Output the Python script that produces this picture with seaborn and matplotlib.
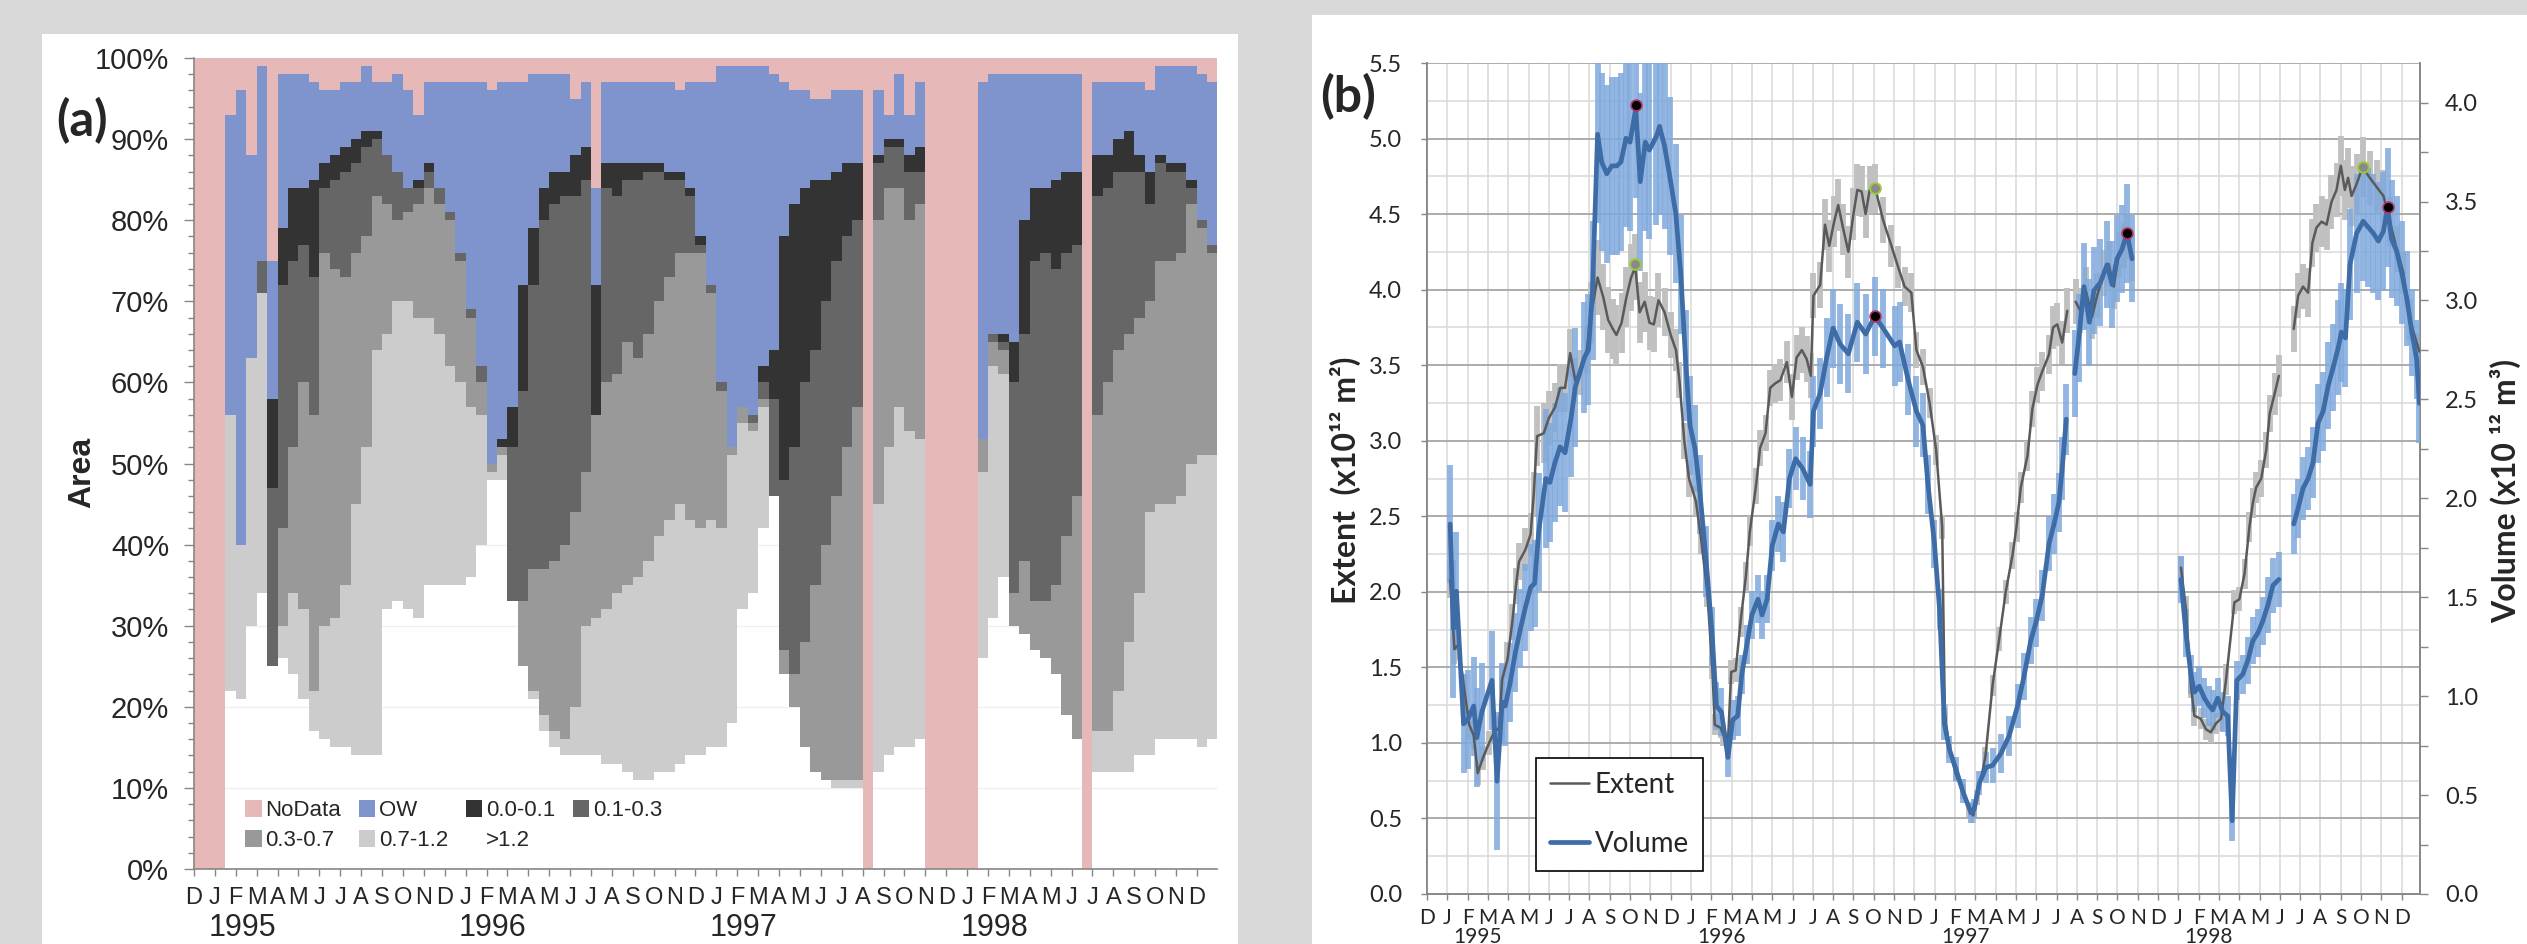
import numpy as np
import pandas as pd
import matplotlib
matplotlib.use('Agg')
import matplotlib.pyplot as plt
from matplotlib.patches import Patch, Rectangle
from matplotlib.lines import Line2D
from matplotlib.ticker import MultipleLocator, FuncFormatter
from matplotlib.transforms import blended_transform_factory
import seaborn as sns

nan = float('nan')

months = list('DJFMAMJJASON') * 4 + ['D']
years = ['1995', '1996', '1997', '1998']

# ---- panel (a): cumulative level (%) at the top of each class, half-month steps from Dec 1994
lvl_ow = [0, 0, 0, 93, 96, 88, 99, 75, 98, 98, 98, 97, 96, 96, 97, 97, 99, 97, 97, 98,
          96, 93, 97, 97, 97, 97, 97, 97, 96, 97, 97, 97, 98, 98, 98, 98, 95, 97, 84, 97,
          97, 97, 97, 97, 97, 97, 96, 97, 97, 97, 99, 99, 99, 99, 99, 98, 97, 96, 96, 95,
          95, 96, 96, 96, 0, 96, 93, 98, 93, 97, 0, 0, 0, 0, 0, 97, 98, 98, 98, 98,
          98, 98, 98, 98, 98, 0, 97, 97, 97, 97, 97, 96, 99, 99, 99, 99, 98, 97]
lvl_00_01 = [0, 0, 0, 56, 40, 63, 75, 58, 79, 84, 84, 85, 87, 88, 89, 90, 91, 91, 88, 86,
             84, 85, 87, 84, 81, 76, 69, 62, 50, 53, 57, 72, 79, 84, 86, 86, 88, 89, 72, 87,
             87, 87, 87, 87, 87, 86, 86, 84, 78, 72, 60, 52, 57, 56, 62, 64, 78, 82, 84, 85,
             85, 86, 87, 87, 0, 88, 90, 90, 88, 89, 0, 0, 0, 0, 0, 53, 66, 66, 65, 80,
             84, 84, 85, 86, 86, 0, 88, 88, 90, 91, 88, 86, 88, 87, 87, 85, 80, 77]
lvl_01_03 = [0, 0, 0, 56, 40, 63, 75, 47, 72, 75, 77, 73, 84, 85, 86, 87, 89, 90, 88, 86,
             84, 84, 86, 84, 81, 76, 69, 62, 50, 52, 52, 59, 72, 80, 82, 83, 83, 85, 56, 84,
             83, 85, 85, 86, 86, 85, 85, 83, 77, 72, 60, 52, 57, 56, 60, 58, 48, 52, 60, 64,
             70, 75, 78, 80, 0, 87, 89, 89, 86, 86, 0, 0, 0, 0, 0, 53, 66, 65, 60, 66,
             75, 76, 74, 76, 77, 0, 83, 84, 86, 86, 86, 82, 87, 86, 86, 84, 80, 77]
lvl_03_07 = [0, 0, 0, 56, 40, 63, 71, 25, 42, 52, 60, 56, 76, 74, 73, 76, 78, 83, 82, 80,
             81, 82, 84, 82, 80, 75, 68, 60, 50, 52, 33, 33, 37, 37, 38, 40, 44, 49, 56, 60,
             61, 65, 63, 66, 70, 73, 76, 76, 76, 71, 59, 52, 57, 55, 58, 46, 27, 24, 28, 35,
             40, 46, 52, 57, 0, 80, 84, 84, 80, 82, 0, 0, 0, 0, 0, 53, 65, 64, 34, 38,
             33, 33, 35, 41, 46, 0, 56, 60, 64, 66, 68, 70, 75, 75, 76, 82, 79, 76]
lvl_07_12 = [0, 0, 0, 56, 40, 63, 71, 25, 30, 34, 32, 22, 30, 31, 35, 45, 52, 64, 66, 70,
             70, 68, 68, 66, 62, 60, 57, 56, 49, 51, 33, 25, 22, 19, 17, 16, 20, 30, 31, 32,
             34, 35, 36, 38, 41, 43, 45, 43, 42, 43, 42, 51, 55, 54, 57, 46, 24, 20, 15, 12,
             11, 11, 11, 11, 0, 45, 52, 57, 54, 53, 0, 0, 0, 0, 0, 49, 62, 61, 30, 29,
             27, 26, 24, 19, 16, 0, 17, 17, 22, 28, 34, 44, 45, 45, 46, 50, 51, 51]
lvl_gt12 = [0, 0, 0, 22, 21, 30, 34, 25, 26, 24, 21, 17, 16, 15, 15, 14, 14, 14, 32, 33,
            32, 31, 35, 35, 35, 35, 36, 40, 48, 48, 33, 25, 21, 17, 15, 14, 14, 14, 14, 13,
            13, 12, 11, 11, 12, 12, 13, 14, 14, 15, 15, 18, 32, 34, 42, 46, 24, 20, 15, 12,
            11, 10, 10, 10, 0, 12, 14, 15, 15, 16, 0, 0, 0, 0, 0, 26, 31, 36, 30, 29,
            27, 26, 24, 19, 16, 0, 12, 12, 12, 12, 14, 14, 16, 16, 16, 16, 15, 16]

# ---- panel (b): months since 1 Dec 1994
ext_t = [1.14, 1.35, 1.55, 1.84, 2.08, 2.3, 2.5, 2.75, 3.06, 3.3,
         3.55, 3.7, 3.96, 4.2, 4.38, 4.53, 4.85, 5.1, 5.26, 5.42,
         5.75, 6.0, 6.3, 6.56, 6.8, 7.05, 7.3, 7.54, 7.87, 8.1,
         8.4, 8.68, 8.92, 9.15, 9.33, 9.58, 9.82, 10.05, 10.26, 10.47,
         10.72, 10.96, 11.17, 11.4, 11.7, 12.0, 12.26, 12.43, 12.67, 12.9,
         13.24, 13.5, 13.8, 14.05, 14.17, 14.46, 14.6, 14.82, 14.98, 15.2,
         15.44, 15.7, 15.9, 16.2, 16.4, 16.67, 16.9, 17.15, 17.4, 17.72,
         17.97, 18.2, 18.46, 18.7, 18.9, 19.03, 19.36, 19.6, 19.81, 20.05,
         20.25, 20.5, 20.75, 21.0, 21.19, 21.4, 21.6, 21.8, 22.08, 22.46,
         22.87, 23.2, 23.52, 23.85, 24.1, 24.42, 24.75, 25.07, 25.37, 25.5,
         25.73, 26.05, 26.38, 26.7, 26.9, 27.1, 27.5, 27.85, 28.18, 28.5,
         28.83, 29.03, 29.24, 29.57, 29.81, 30.06, 30.3, 30.63, 30.83, 31.04,
         31.28, 31.53, 31.7,
         31.94, 32.18, 32.43, 32.75, 33.0, 33.33, 33.57, 33.82, 34.06, 34.3, 34.47, 34.72, 36.0,
         37.13, 37.37, 37.62, 37.79, 38.1, 38.36, 38.6, 38.86, 39.1, 39.35,
         39.76, 40.0, 40.26, 40.5, 40.67, 40.83, 41.08, 41.33, 41.5, 41.74, 41.95, 42.3,
         42.68, 42.9, 43.14, 43.39, 43.6, 43.8, 44.05, 44.3, 44.54, 44.79,
         45.0, 45.2, 45.36, 45.53, 45.78, 46.07, 46.43, 46.76, 47.1, 47.42,
         47.75, 48.08, 48.4, 48.87]
ext_v = [2.08, 1.62, 1.65, 1.35, 1.12, 1.05, 0.80, 0.90, 1.00, 1.07,
         1.10, 1.42, 1.55, 1.80, 2.04, 2.20, 2.28, 2.38, 2.65, 3.03,
         3.05, 3.15, 3.22, 3.35, 3.35, 3.58, 3.40, 3.45, 3.60, 3.85,
         4.08, 3.95, 3.80, 3.74, 3.70, 3.78, 3.95, 4.08, 4.15, 3.85,
         3.92, 3.78, 3.77, 3.93, 3.85, 3.70, 3.60, 3.40, 3.00, 2.75,
         2.60, 2.35, 2.00, 1.50, 1.12, 1.10, 1.05, 1.00, 1.47, 1.48,
         1.80, 2.10, 2.40, 2.70, 2.95, 3.05, 3.35, 3.38, 3.40, 3.52,
         3.29, 3.55, 3.60, 3.54, 3.43, 3.96, 4.03, 4.43, 4.29, 4.45,
         4.56, 4.40, 4.25, 4.50, 4.66, 4.65, 4.50, 4.66, 4.67, 4.46,
         4.29, 4.15, 4.02, 3.98, 3.60, 3.49, 3.25, 2.94, 2.43, 1.20,
         0.95, 0.79, 0.68, 0.56, 0.52, 0.64, 0.91, 1.38, 1.69, 2.00,
         2.24, 2.43, 2.69, 2.90, 3.21, 3.37, 3.46, 3.57, 3.75, 3.77,
         3.65, 3.86, nan,
         3.92, 3.86, 4.00, 3.82, 3.96, 4.11, 4.17, 4.02, 4.23, 4.29, 4.35, 4.21, nan,
         2.16, 1.89, 1.38, 1.18, 1.16, 1.09, 1.07, 1.13, 1.16, 1.42,
         1.93, 1.95, 2.12, 2.43, 2.59, 2.69, 2.75, 2.94, 3.18, 3.31, 3.43, nan,
         3.74, 3.96, 4.02, 3.98, 4.31, 4.41, 4.45, 4.43, 4.58, 4.66,
         4.82, 4.66, 4.74, 4.62, 4.70, 4.81, 4.74, 4.68, 4.62, 4.45,
         4.27, 4.11, 3.80, 3.59]
ext_err = [0.12, 0.1, 0.1, 0.1, 0.1, 0.1, 0.08, 0.08, 0.08, 0.08,
           0.08, 0.1, 0.12, 0.12, 0.12, 0.12, 0.14, 0.14, 0.14, 0.2,
           0.2, 0.18, 0.16, 0.16, 0.16, 0.16, 0.15, 0.15, 0.16, 0.2,
           0.25, 0.22, 0.22, 0.2, 0.2, 0.2, 0.2, 0.22, 0.22, 0.2,
           0.2, 0.18, 0.18, 0.18, 0.16, 0.15, 0.14, 0.12, 0.12, 0.12,
           0.1, 0.1, 0.1, 0.08, 0.07, 0.07, 0.07, 0.07, 0.08, 0.08,
           0.1, 0.1, 0.1, 0.12, 0.12, 0.12, 0.12, 0.13, 0.14, 0.14,
           0.15, 0.15, 0.15, 0.15, 0.15, 0.15, 0.15, 0.17, 0.17, 0.17,
           0.17, 0.17, 0.17, 0.17, 0.17, 0.17, 0.16, 0.16, 0.16, 0.15,
           0.14, 0.14, 0.13, 0.13, 0.12, 0.12, 0.1, 0.1, 0.08, 0.06,
           0.05, 0.05, 0.05, 0.05, 0.05, 0.05, 0.06, 0.07, 0.08, 0.08,
           0.09, 0.1, 0.1, 0.1, 0.12, 0.12, 0.13, 0.13, 0.14, 0.14,
           0.14, 0.15, nan,
           0.15, 0.15, 0.15, 0.15, 0.15, 0.15, 0.15, 0.15, 0.15, 0.15, 0.15, 0.15, nan,
           0.08, 0.08, 0.08, 0.07, 0.07, 0.07, 0.07, 0.07, 0.08, 0.1,
           0.08, 0.08, 0.1, 0.1, 0.1, 0.1, 0.12, 0.12, 0.12, 0.14, 0.14, nan,
           0.15, 0.15, 0.15, 0.16, 0.16, 0.16, 0.17, 0.17, 0.18, 0.18,
           0.2, 0.2, 0.2, 0.2, 0.2, 0.2, 0.18, 0.18, 0.17, 0.16,
           0.15, 0.14, 0.14, 0.12]

vol_t = [1.14, 1.3, 1.45, 1.8, 2.0, 2.3, 2.45, 2.7, 3.2, 3.45,
         3.7, 3.85, 4.1, 4.35, 4.6, 4.85, 5.1, 5.3, 5.5, 5.85,
         6.05, 6.3, 6.55, 6.8, 7.1, 7.3, 7.75, 7.95, 8.15, 8.4,
         8.6, 8.85, 9.1, 9.35, 9.55, 9.8, 10.0, 10.28, 10.5, 10.75,
         10.95, 11.3, 11.45, 11.7, 11.95, 12.25, 12.5, 12.75, 12.95, 13.2,
         13.45, 13.75, 14.05, 14.25, 14.5, 14.82, 15.05, 15.3, 15.5, 15.75,
         16.0, 16.3, 16.5, 16.75, 17.0, 17.3, 17.55, 17.85, 18.15, 18.5,
         18.87, 19.03, 19.36, 19.68, 20.0, 20.34, 20.75, 21.19, 21.6, 22.05,
         22.46, 23.03, 23.27, 23.69, 24.1, 24.42, 24.67, 24.99, 25.24, 25.48,
         25.73, 26.05, 26.38, 26.79, 26.95, 27.2, 27.53, 27.85, 28.26, 28.67,
         29.08, 29.4, 29.73, 29.98, 30.3, 30.63, 30.88, 31.12, 31.28, 31.48, 31.7,
         31.9, 32.1, 32.35, 32.62, 32.84, 33.16, 33.49, 33.74, 33.98, 34.23, 34.47, 34.72, 36.0,
         37.13, 37.37, 37.62, 37.79, 38.03, 38.28, 38.53, 38.69, 38.94, 39.19,
         39.43, 39.65, 39.88, 40.17, 40.42, 40.67, 40.92, 41.16, 41.41, 41.66, 41.95, 42.3,
         42.68, 42.9, 43.14, 43.39, 43.63, 43.88, 44.13, 44.38, 44.62, 44.87,
         45.03, 45.23, 45.45, 45.78, 46.1, 46.35, 46.6, 46.85, 47.1, 47.3,
         47.5, 47.75, 48.0, 48.25, 48.5, 48.74, 48.87]
vol_v = [1.87, 1.34, 1.53, 0.86, 0.88, 0.95, 0.79, 0.92, 1.08, 0.57,
         0.97, 0.95, 1.07, 1.22, 1.34, 1.45, 1.55, 1.57, 1.83, 2.10,
         2.08, 2.18, 2.26, 2.23, 2.41, 2.56, 2.71, 2.75, 3.05, 3.84,
         3.70, 3.64, 3.68, 3.68, 3.70, 3.82, 3.80, 3.97, 3.60, 3.80,
         3.76, 3.83, 3.88, 3.78, 3.63, 3.44, 3.13, 2.67, 2.37, 2.25,
         2.02, 1.68, 1.30, 0.95, 0.92, 0.69, 0.88, 0.90, 1.11, 1.26,
         1.41, 1.49, 1.41, 1.49, 1.76, 1.87, 1.83, 2.10, 2.20, 2.15,
         2.07, 2.44, 2.53, 2.71, 2.86, 2.78, 2.73, 2.89, 2.83, 2.92,
         2.86, 2.77, 2.79, 2.60, 2.44, 2.37, 2.07, 1.77, 1.44, 0.86,
         0.73, 0.63, 0.52, 0.41, 0.43, 0.56, 0.64, 0.65, 0.71, 0.80,
         0.95, 1.10, 1.28, 1.37, 1.51, 1.77, 1.87, 1.98, 2.15, 2.40, nan,
         2.63, 2.81, 3.07, 2.89, 3.05, 3.09, 3.18, 3.08, 3.21, 3.26, 3.34, 3.21, nan,
         1.59, 1.32, 1.11, 1.02, 1.05, 0.99, 0.95, 0.93, 0.99, 0.92,
         0.90, 0.37, 1.08, 1.11, 1.18, 1.28, 1.32, 1.38, 1.46, 1.56, 1.59, nan,
         1.87, 1.95, 2.05, 2.10, 2.18, 2.38, 2.44, 2.57, 2.66, 2.76,
         2.84, 2.81, 3.18, 3.34, 3.40, 3.37, 3.34, 3.30, 3.35, 3.47,
         3.31, 3.25, 3.14, 3.01, 2.84, 2.70, 2.48]
vol_err = [0.3, 0.35, 0.3, 0.25, 0.25, 0.25, 0.25, 0.25, 0.25, 0.35,
           0.2, 0.2, 0.2, 0.2, 0.2, 0.22, 0.22, 0.22, 0.3, 0.35,
           0.3, 0.3, 0.3, 0.3, 0.3, 0.3, 0.28, 0.28, 0.35, 0.45,
           0.45, 0.45, 0.45, 0.45, 0.45, 0.45, 0.45, 0.45, 0.45, 0.45,
           0.45, 0.45, 0.45, 0.42, 0.4, 0.35, 0.3, 0.28, 0.25, 0.22,
           0.2, 0.18, 0.15, 0.12, 0.12, 0.1, 0.1, 0.1, 0.1, 0.1,
           0.12, 0.12, 0.12, 0.12, 0.13, 0.14, 0.15, 0.15, 0.16, 0.16,
           0.17, 0.18, 0.18, 0.2, 0.2, 0.2, 0.2, 0.2, 0.2, 0.2,
           0.2, 0.2, 0.2, 0.18, 0.18, 0.16, 0.15, 0.12, 0.1, 0.08,
           0.07, 0.06, 0.06, 0.05, 0.05, 0.06, 0.08, 0.09, 0.1, 0.1,
           0.11, 0.12, 0.12, 0.12, 0.13, 0.14, 0.15, 0.15, 0.16, 0.18, nan,
           0.22, 0.22, 0.22, 0.22, 0.22, 0.22, 0.22, 0.22, 0.22, 0.22, 0.25, 0.22, nan,
           0.12, 0.12, 0.1, 0.1, 0.1, 0.1, 0.1, 0.1, 0.1, 0.1,
           0.1, 0.1, 0.1, 0.1, 0.12, 0.12, 0.12, 0.12, 0.14, 0.14, 0.14, nan,
           0.15, 0.15, 0.16, 0.16, 0.18, 0.2, 0.2, 0.22, 0.22, 0.24,
           0.25, 0.25, 0.28, 0.3, 0.3, 0.3, 0.3, 0.3, 0.3, 0.3,
           0.3, 0.28, 0.26, 0.24, 0.22, 0.2, 0.2]

ext_max_t = [10.26, 22.08, 46.07]
ext_max_v = [4.17, 4.67, 4.81]
vol_max_t = [10.28, 22.05, 34.47, 47.3]
vol_max_v = [3.99, 2.92, 3.34, 3.47]

# ---------------------------------------------------------------- figure
sns.set_theme(style='white')
plt.rcParams['font.family'] = ['Liberation Sans', 'DejaVu Sans']

W, H = 2527, 944


def px_box(left, top, right, bottom):
    return [left / W, 1 - bottom / H, (right - left) / W, (bottom - top) / H]


fig = plt.figure(figsize=(W / 100, H / 100), dpi=100, facecolor='#d9d9d9')
fig.add_artist(Rectangle((42 / W, 0), 1196 / W, 910 / H, transform=fig.transFigure,
                         facecolor='white', edgecolor='none', zorder=-5))
fig.add_artist(Rectangle((1312 / W, 0), 1215 / W, 929 / H, transform=fig.transFigure,
                         facecolor='white', edgecolor='none', zorder=-5))

axis_grey = '#868686'

# ---------------------------------------------------------------- (a)
axa = fig.add_axes(px_box(194, 58, 1217, 869))
x = np.arange(len(lvl_ow)) * 0.5
top100 = np.full(len(lvl_ow), 100)
layers = [
    (lvl_ow, top100, '#e6b9b8', 'NoData'),
    (lvl_00_01, lvl_ow, '#7f94cc', 'OW'),
    (lvl_01_03, lvl_00_01, '#333333', '0.0-0.1'),
    (lvl_03_07, lvl_01_03, '#666666', '0.1-0.3'),
    (lvl_07_12, lvl_03_07, '#999999', '0.3-0.7'),
    (lvl_gt12, lvl_07_12, '#cccccc', '0.7-1.2'),
    (np.zeros(len(lvl_ow)), lvl_gt12, '#ffffff', '>1.2'),
]
handles = {}
for lo, hi, col, lab in layers:
    lo = np.asarray(lo, float)
    hi = np.asarray(hi, float)
    axa.bar(x, hi - lo, bottom=lo, width=0.5, align='edge', color=col,
            linewidth=0, antialiased=False, zorder=0.4 if lab == '>1.2' else 1)
    handles[lab] = Patch(facecolor=col, edgecolor='none')

axa.set_xlim(0, 48.96)
axa.set_ylim(0, 100)
axa.set_axisbelow(True)
axa.grid(axis='y', which='major', color='#efefef', linewidth=0.9)
axa.yaxis.set_major_locator(MultipleLocator(10))
axa.yaxis.set_minor_locator(MultipleLocator(2))
axa.yaxis.set_major_formatter(FuncFormatter(lambda v, p: f'{v:.0f}%'))
axa.set_xticks(range(49))
axa.set_xticklabels(months)
axa.tick_params(axis='y', which='major', direction='out', length=7, width=1,
                color=axis_grey, labelsize=21, pad=11, left=True)
axa.tick_params(axis='y', which='minor', direction='out', length=4, width=1,
                color=axis_grey, left=True)
axa.tick_params(axis='x', direction='out', length=5, width=1, color=axis_grey,
                labelsize=17, pad=8, bottom=True)
for side in ['top', 'right']:
    axa.spines[side].set_visible(False)
for side in ['left', 'bottom']:
    axa.spines[side].set_color(axis_grey)
    axa.spines[side].set_linewidth(1.2)

ytrans = blended_transform_factory(axa.transData, axa.transAxes)
for i, yr in enumerate(years):
    axa.text(2.3 + 12 * i, -0.073, yr, transform=ytrans, ha='center', va='center',
             fontsize=22)

order = ['NoData', '0.3-0.7', 'OW', '0.7-1.2', '0.0-0.1', '>1.2', '0.1-0.3']
axa.legend([handles[k] for k in order], order, ncol=4, loc='lower left',
           bbox_to_anchor=(0.05, 0.022), frameon=False, fontsize=16,
           handlelength=0.75, handleheight=0.75, handletextpad=0.15,
           columnspacing=0.8, labelspacing=0.4, borderpad=0, borderaxespad=0)

fig.text(82 / W, 1 - 121 / H, '(a)', fontsize=35, fontweight='bold',
         family=['Lato', 'DejaVu Sans'], ha='center', va='center')
fig.text(82 / W, 1 - 472 / H, 'Area', fontsize=23, fontweight='bold',
         rotation=90, ha='center', va='center')

# ---------------------------------------------------------------- (b)
axb = fig.add_axes(px_box(1427, 63, 2420, 894))
axv = axb.twinx()
axb.set_zorder(2)
axv.set_zorder(1)
axb.patch.set_visible(False)
axv.patch.set_visible(False)

axb.set_xlim(0, 48.9)
axb.set_ylim(0, 5.5)
axv.set_ylim(0, 4.2)

lato = ['Lato', 'DejaVu Sans']
axb.set_xticks(range(49))
axb.set_xticklabels(months, fontfamily=lato, fontsize=15)
yt = np.arange(0, 5.51, 0.5)
axb.set_yticks(yt)
axb.set_yticklabels([f'{v:.1f}' for v in yt], fontfamily=lato, fontsize=17)
axb.yaxis.set_minor_locator(MultipleLocator(0.25))
vt = np.arange(0, 4.01, 0.5)
axv.set_yticks(vt)
axv.set_yticklabels([f'{v:.1f}' for v in vt], fontfamily=lato, fontsize=17)
axv.yaxis.set_minor_locator(MultipleLocator(0.25))

axb.set_axisbelow(True)
axb.grid(axis='x', which='major', color='#d9d9d9', linewidth=1.1)
axb.grid(axis='y', which='major', color='#a6a6a6', linewidth=1.3)
axb.grid(axis='y', which='minor', color='#d9d9d9', linewidth=1.1)
axv.grid(False)

axb.tick_params(axis='x', direction='out', length=4, width=1, color=axis_grey,
                pad=6, bottom=True)
axb.tick_params(axis='y', which='major', direction='out', length=4, width=1,
                color=axis_grey, pad=14, left=True)
axb.tick_params(axis='y', which='minor', length=0)
axv.tick_params(axis='y', which='major', direction='out', length=6, width=1,
                color=axis_grey, pad=12, right=True)
axv.tick_params(axis='y', which='minor', direction='out', length=6, width=1,
                color=axis_grey, right=True)
for ax in (axb, axv):
    ax.spines['top'].set_visible(False)
    for side in ['left', 'bottom', 'right']:
        ax.spines[side].set_color(axis_grey)
        ax.spines[side].set_linewidth(1.2)

# error bars
et = np.asarray(ext_t)
ev = np.asarray(ext_v)
ee = np.asarray(ext_err)
ok = ~np.isnan(ev)
axb.vlines(et[ok], ev[ok] - ee[ok], ev[ok] + ee[ok], colors='#c0c0c0',
           linewidth=4.2, zorder=2)
vt_ = np.asarray(vol_t)
vv = np.asarray(vol_v)
ve = np.asarray(vol_err)
ok = ~np.isnan(vv)
axb.vlines(vt_[ok], vv[ok] - ve[ok], vv[ok] + ve[ok], colors='#7fa9dc', alpha=0.85,
           linewidth=4.2, zorder=3, transform=axv.transData)

# lines (split at data gaps)
df_ext = pd.DataFrame({'t': ext_t, 'v': ext_v})
df_ext['seg'] = df_ext['v'].isna().cumsum()
df_ext = df_ext.dropna()
df_vol = pd.DataFrame({'t': vol_t, 'v': vol_v})
df_vol['seg'] = df_vol['v'].isna().cumsum()
df_vol = df_vol.dropna()

ext_col = '#5a5a5a'
vol_col = '#3d6ca7'
sns.lineplot(data=df_ext, x='t', y='v', units='seg', estimator=None, sort=False,
             color=ext_col, linewidth=1.8, ax=axb, zorder=4, legend=False)
sns.lineplot(data=df_vol, x='t', y='v', units='seg', estimator=None, sort=False,
             color=vol_col, linewidth=3.4, ax=axb, zorder=5, legend=False,
             transform=axv.transData)
axb.set_xlim(0, 48.9)
axb.set_ylim(0, 5.5)
axb.set_xlabel('')
axb.set_ylabel('')

axb.scatter(ext_max_t, ext_max_v, s=60, color='#8a8a8a', edgecolors='#9bcb3c',
            linewidths=1.4, zorder=6)
axb.scatter(vol_max_t, vol_max_v, s=60, color='black', edgecolors='#b0306a',
            linewidths=1.2, zorder=6, transform=axv.transData)

leg = axb.legend([Line2D([], [], color=ext_col, lw=1.8),
                  Line2D([], [], color=vol_col, lw=3.4)],
                 ['Extent', 'Volume'], loc='lower left', bbox_to_anchor=(0.11, 0.028),
                 borderaxespad=0, fancybox=False, framealpha=1, edgecolor='black',
                 prop={'family': lato, 'size': 20}, handlelength=1.4,
                 handletextpad=0.2, labelspacing=1.2, borderpad=0.5)
leg.get_frame().set_linewidth(1.2)
leg.set_zorder(10)

xtrans = blended_transform_factory(axb.transData, axb.transAxes)
for i, yr in enumerate(years):
    axb.text(2.5 + 12 * i, -0.0395, yr, transform=xtrans, ha='center', va='top',
             fontsize=15, family=lato)

fig.text(1348 / W, 1 - 97 / H, '(b)', fontsize=36, fontweight='bold',
         family=lato, ha='center', va='center')
fig.text(1345 / W, 1 - 480 / H, 'Extent  (x10\u00b9\u00b2 m\u00b2)', fontsize=23,
         fontweight='bold', family=lato, rotation=90, ha='center', va='center')
fig.text(2506 / W, 1 - 491 / H, 'Volume (x10 \u00b9\u00b2 m\u00b3)', fontsize=23,
         fontweight='bold', family=lato, rotation=90, ha='center', va='center')

fig.savefig('out.png', dpi=100, facecolor=fig.get_facecolor())
